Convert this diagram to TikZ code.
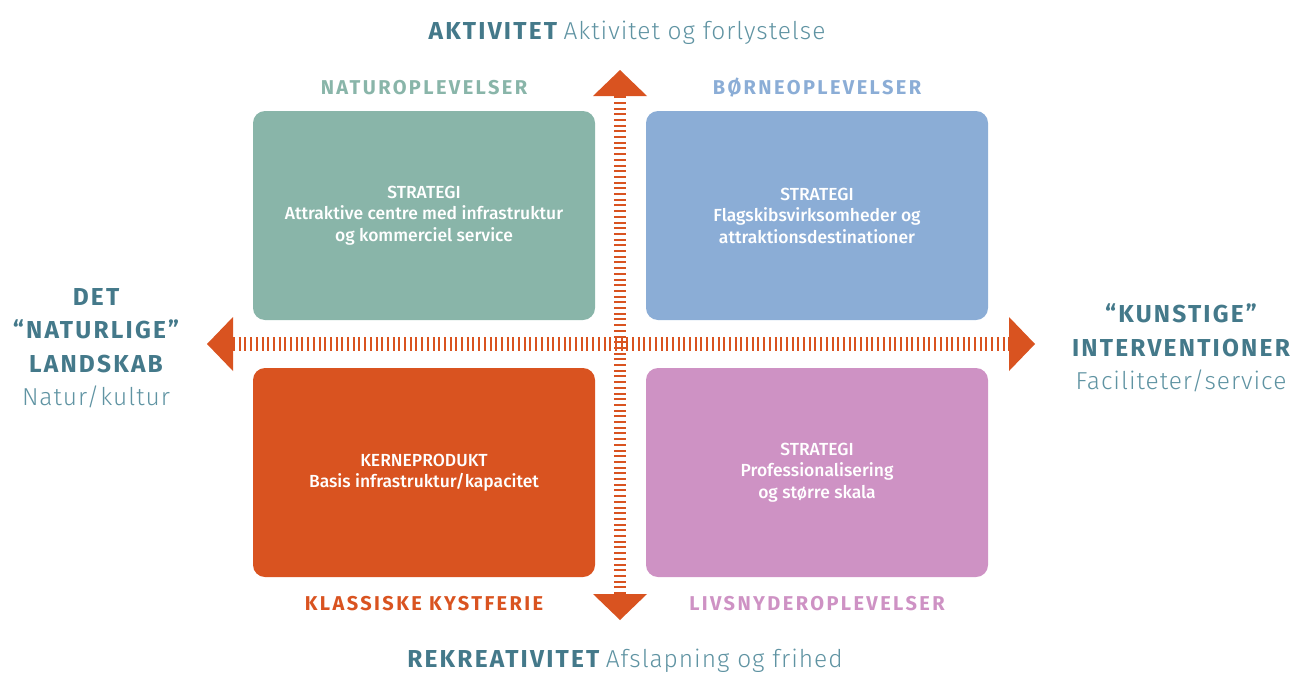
\documentclass[tikz,border=0pt]{standalone}
\usepackage{fontspec}
\setmainfont{Fira Sans}
\IfFontExistsTF{Fira Sans Light}
  {\newfontfamily\thinfont[LetterSpace=4]{Fira Sans Light}}
  {\newfontfamily\thinfont[LetterSpace=4]{Fira Sans}}
\IfFontExistsTF{Fira Sans Medium}
  {\newfontfamily\boxfont{Fira Sans Medium}}
  {\newfontfamily\boxfont{Fira Sans}}
\newfontfamily\headfont[LetterSpace=9]{Fira Sans}
\newfontfamily\catfont[LetterSpace=12]{Fira Sans}
\usetikzlibrary{arrows.meta,positioning}

\definecolor{axisblue}{HTML}{44798A}
\definecolor{axislight}{HTML}{5F93A2}
\definecolor{natgreen}{HTML}{89B5A9}
\definecolor{barnblue}{HTML}{8BADD6}
\definecolor{kystorange}{HTML}{D95320}
\definecolor{livpink}{HTML}{CE92C4}

\newcommand{\headword}[1]{{\headfont\bfseries #1}}
\newcommand{\thinword}[1]{{\thinfont\color{axislight}#1}}

\tikzset{
  quad/.style={rounded corners=12pt, minimum width=342pt, minimum height=209pt,
    inner sep=0pt, text=white, align=center, font=\boxfont\fontsize{17.5}{21.5}\selectfont},
  catlabel/.style={font=\catfont\fontsize{20}{24}\selectfont\bfseries},
  axislabel/.style={text=axisblue, align=center, font=\fontsize{24.5}{33.5}\selectfont},
  axisbar/.style={draw=kystorange, dash pattern=on 2pt off 3.7pt,
    arrows={Triangle[width=54pt,length=26pt,line width=0pt,fill=kystorange]-Triangle[width=54pt,length=26pt,line width=0pt,fill=kystorange]}}
}

\begin{document}
\begin{tikzpicture}[x=1pt,y=-1pt]
    \useasboundingbox (0,0) rectangle (1298,672);

    % the four fields
    \node[quad, fill=natgreen] (nat) at (424,215.5) {STRATEGI\\Attraktive centre med infrastruktur\\og kommerciel service};
    \node[quad, fill=barnblue] (barn) at (817,215.5) {STRATEGI\\Flagskibsvirksomheder og\\attraktionsdestinationer};
    \node[quad, fill=kystorange] (kyst) at (424,472.5) {KERNEPRODUKT\\Basis infrastruktur/kapacitet};
    \node[quad, fill=livpink] (liv) at (817,472.5) {STRATEGI\\Professionalisering\\og større skala};

    \node[catlabel, text=natgreen] (natlab) at (424,88) {NATUROPLEVELSER};
    \node[catlabel, text=barnblue] (barnlab) at (817,88) {BØRNEOPLEVELSER};
    \node[catlabel, text=kystorange] (kystlab) at (424,604) {KLASSISKE KYSTFERIE};
    \node[catlabel, text=livpink] (livlab) at (817,604) {LIVSNYDEROPLEVELSER};

    % axes
    \coordinate (ntip) at (620,70);
    \coordinate (stip) at (620,620);
    \coordinate (wtip) at (207,344);
    \coordinate (etip) at (1035,344);
    \draw[axisbar, line width=14pt] (wtip) -- (etip);
    \draw[axisbar, line width=12pt] (stip) -- (ntip);

    \node[axislabel] (top) at (627,33) {\headword{AKTIVITET} \thinword{Aktivitet og forlystelse}};
    \node[axislabel] (bottom) at (625,661) {\headword{REKREATIVITET} \thinword{Afslapning og frihed}};
    \node[axislabel] (left) at (96,348) {\headword{DET}\\\headword{“NATURLIGE”}\\\headword{LANDSKAB}\\\thinword{Natur/kultur}};
    \node[axislabel] (right) at (1181,348) {\headword{“KUNSTIGE”}\\\headword{INTERVENTIONER}\\\thinword{Faciliteter/service}};
\end{tikzpicture}
\end{document}
